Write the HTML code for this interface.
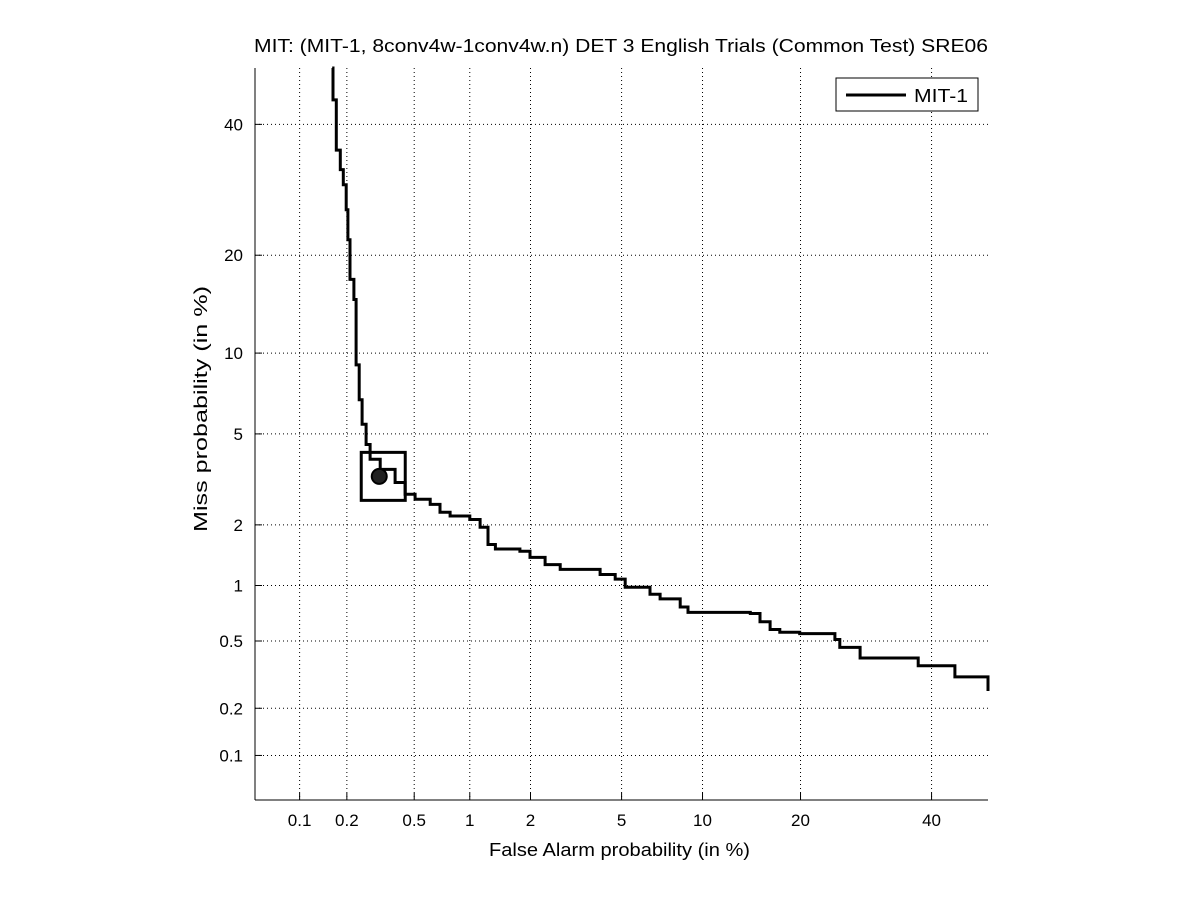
<!DOCTYPE html>
<html><head><meta charset="utf-8"><style>
body{margin:0;background:#fff;}
svg text{font-family:"Liberation Sans",sans-serif;fill:#000;}
</style></head><body>
<svg id="chart" width="1201" height="900" xmlns="http://www.w3.org/2000/svg">
<rect width="1201" height="900" fill="#fff"/>
<text x="254" y="52" font-size="18" textLength="734" lengthAdjust="spacingAndGlyphs">MIT: (MIT-1, 8conv4w-1conv4w.n) DET 3 English Trials (Common Test) SRE06</text>
<g id="grid"></g>
<g id="axes"></g>
<g id="series"></g>
<text x="489" y="856" font-size="18" textLength="261" lengthAdjust="spacingAndGlyphs">False Alarm probability (in %)</text>
<text x="207" y="409" font-size="18" text-anchor="middle" transform="rotate(-90 207 409)" textLength="246" lengthAdjust="spacingAndGlyphs">Miss probability (in %)</text>
<g>
<rect x="836" y="78" width="142" height="33" fill="#fff" stroke="#000" stroke-width="1"/>
<line x1="846" y1="95" x2="906" y2="95" stroke="#000" stroke-width="3"/>
<text x="914" y="102" font-size="18" textLength="54" lengthAdjust="spacingAndGlyphs">MIT-1</text>
</g>
</svg>
<script>
const xTicks=[0.1,0.2,0.5,1,2,5,10,20,40];
const yTicks=[0.1,0.2,0.5,1,2,5,10,20,40];
const faValues=[0.162,0.164,0.172,0.182,0.190,0.198,0.203,0.209,0.221,0.228,0.238,0.248,0.262,0.277,0.318,0.389,0.444,0.506,0.614,0.695,0.787,1.00,1.13,1.24,1.35,1.78,1.99,2.34,2.74,4.08,4.71,5.17,6.46,7.05,8.35,8.90,14.3,15.3,16.4,17.5,19.9,24.6,25.3,28.3,37.7,44.1,50,50];
const missValues=[50,44.3,35.6,32.4,30.0,26.2,22.0,17.1,14.9,9.1,6.8,5.46,4.53,3.93,3.56,3.12,2.77,2.63,2.49,2.29,2.20,2.12,1.95,1.61,1.53,1.49,1.39,1.28,1.21,1.14,1.08,0.98,0.90,0.85,0.77,0.72,0.71,0.64,0.58,0.56,0.55,0.51,0.46,0.40,0.36,0.31,0.30,0.255];
const opPointFA=[0.314];
const opPointMiss=[3.32];

function ninv(p){
 const a=[-3.969683028665376e+01,2.209460984245205e+02,-2.759285104469687e+02,1.383577518672690e+02,-3.066479806614716e+01,2.506628277459239e+00];
 const b=[-5.447609879822406e+01,1.615858368580409e+02,-1.556989798598866e+02,6.680131188771972e+01,-1.328068155288572e+01];
 const c=[-7.784894002430293e-03,-3.223964580411365e-01,-2.400758277161838e+00,-2.549671475335751e+00,4.374664141464968e+00,2.938163982698783e+00];
 const d=[7.784695709041462e-03,3.224671290700398e-01,2.445134137142996e+00,3.754408661907416e+00];
 const pl=0.02425;let q,r;
 if(p<pl){q=Math.sqrt(-2*Math.log(p));return (((((c[0]*q+c[1])*q+c[2])*q+c[3])*q+c[4])*q+c[5])/((((d[0]*q+d[1])*q+d[2])*q+d[3])*q+1);}
 if(p<=1-pl){q=p-0.5;r=q*q;return (((((a[0]*r+a[1])*r+a[2])*r+a[3])*r+a[4])*r+a[5])*q/(((((b[0]*r+b[1])*r+b[2])*r+b[3])*r+b[4])*r+1);}
 q=Math.sqrt(-2*Math.log(1-p));return -(((((c[0]*q+c[1])*q+c[2])*q+c[3])*q+c[4])*q+c[5])/((((d[0]*q+d[1])*q+d[2])*q+d[3])*q+1);
}
const L=255,R=988,T=68,B=800;
const lo=ninv(0.0005),hi=ninv(0.5);
function xs(pct){return L+(ninv(pct/100)-lo)/(hi-lo)*(R-L);}
function ys(pct){return B-(ninv(pct/100)-lo)/(hi-lo)*(B-T);}
const NS="http://www.w3.org/2000/svg";
function mk(tag,attrs,parent){const e=document.createElementNS(NS,tag);for(const k in attrs)e.setAttribute(k,attrs[k]);parent.appendChild(e);return e;}
const grid=document.getElementById('grid'),axes=document.getElementById('axes'),series=document.getElementById('series');
xTicks.forEach(v=>{const x=xs(v);
 const g=mk('line',{x1:x,x2:x,y1:T,y2:B,stroke:'#000','stroke-width':1,'stroke-dasharray':'1,3'},grid);
 
 
 mk('line',{x1:x,x2:x,y1:B,y2:B-7,stroke:'#000'},axes);
 const t=mk('text',{x:x,y:B+26,'font-size':17,'text-anchor':'middle'},axes);t.textContent=v;
 
 
});
yTicks.forEach(v=>{const y=ys(v);
 const g=mk('line',{x1:L,x2:R,y1:y,y2:y,stroke:'#000','stroke-width':1,'stroke-dasharray':'1,3'},grid);
 
 
 mk('line',{x1:L,x2:L+7,y1:y,y2:y,stroke:'#000'},axes);
 const t=mk('text',{x:L-12,y:y+6,'font-size':17,'text-anchor':'end'},axes);t.textContent=v;
 
 
});
const xa=mk('line',{x1:L,x2:R,y1:B,y2:B,stroke:'#000'},axes);


const ya=mk('line',{x1:L,x2:L,y1:T,y2:B,stroke:'#000'},axes);


let pts=[];
for(let i=0;i<faValues.length;i++){
 const x=xs(faValues[i]).toFixed(1),y=ys(missValues[i]).toFixed(1);
 if(i>0){pts.push(x+','+ys(missValues[i-1]).toFixed(1));}
 pts.push(x+','+y);
}
const pl=mk('polyline',{points:pts.join(' '),fill:'none',stroke:'#000','stroke-width':3,'stroke-linejoin':'miter'},series);


const cx=xs(opPointFA[0]),cy=ys(opPointMiss[0]);
const sq=mk('rect',{x:cx-18,y:cy-24,width:44,height:48,fill:'none',stroke:'#000','stroke-width':3},series);


const ci=mk('circle',{cx:cx,cy:cy,r:7.5,fill:'#222',stroke:'#000','stroke-width':2},series);


</script>
</body></html>
